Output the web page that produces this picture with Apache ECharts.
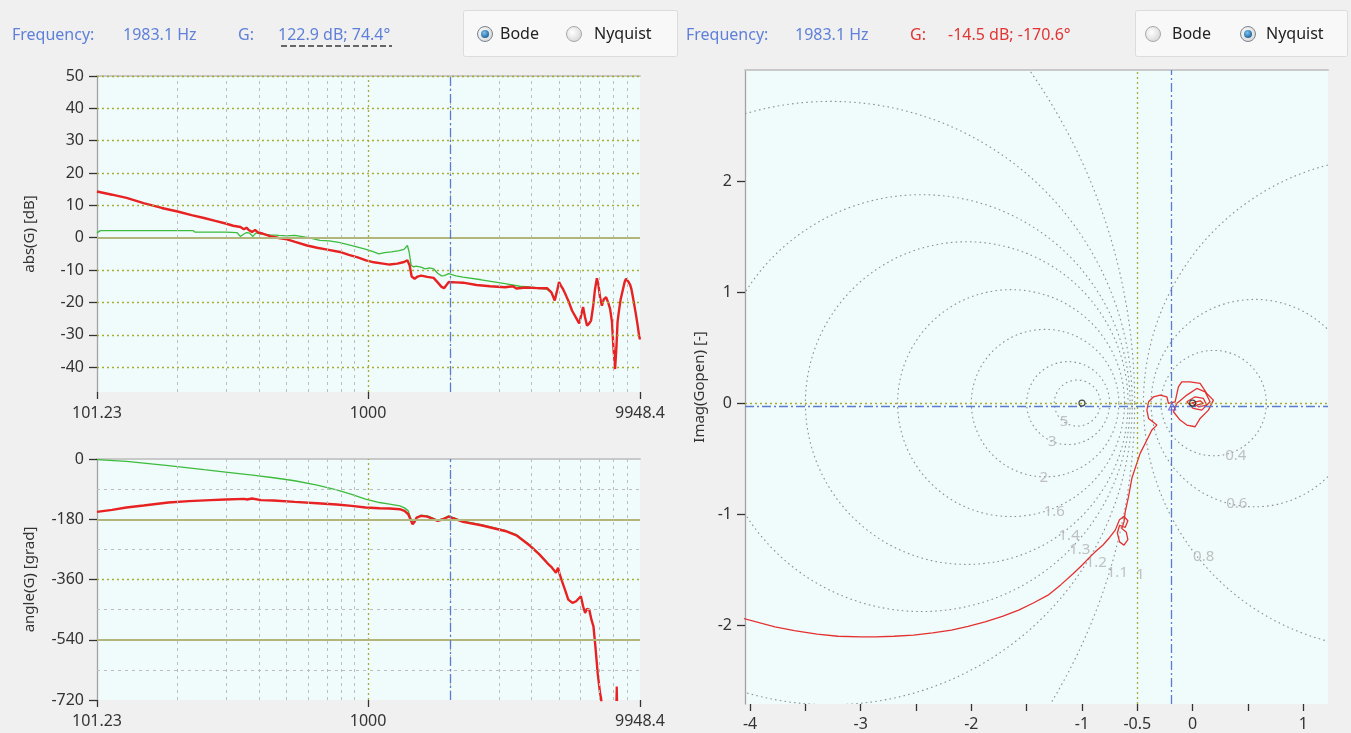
<!DOCTYPE html>
<html><head><meta charset="utf-8">
<script src="https://cdn.jsdelivr.net/npm/echarts@6/dist/echarts.min.js"></script>
<style>html,body{margin:0;padding:0;background:#f0f0f0;}#c{width:1351px;height:733px;}</style>
</head><body><div id="c"></div>
<script>
const FONT = 'Noto Sans';
// ---------- Bode magnitude ----------
const redMagFreq = [101.2,115,130,150,175,200,225,250,275,300,320,340,350,358,366,375,385,395,410,437,470,504,540,597,650,700,789,850,916,983,1050,1134,1200,1280,1355,1394,1420,1445,1482,1520,1564,1650,1739,1800,1860,1900,1940,1977,2100,2230,2500,2800,3181,3400,3500,3800,4200,4536,4700,4841,4950,5020,5100,5200,5326,5450,5600,5826,5950,6050,6150,6250,6362,6480,6579,6700,6800,6911,7000,7100,7210,7330,7470,7600,7727,7850,7950,8060,8150,8230,8316,8450,8623,8750,8844,9000,9150,9247,9400,9580,9750,9870,9948];
const redMagDb = [14.3,13.3,12.3,10.7,9.2,8.1,7.0,6.1,5.2,4.4,3.7,3.3,2.6,3.1,2.3,1.8,2.4,1.6,1.3,0.5,-0.1,-0.5,-1.3,-2.4,-3.1,-3.6,-4.4,-5.3,-6.1,-7.0,-7.6,-8.0,-8.3,-8.0,-7.5,-7.0,-8.5,-12.0,-12.7,-12.0,-11.7,-12.1,-12.4,-13.8,-15.2,-15.6,-14.6,-13.7,-13.8,-13.9,-14.6,-15.0,-15.3,-15.0,-15.7,-15.4,-15.6,-15.6,-16.8,-19.4,-16.0,-13.7,-14.8,-16.0,-17.9,-19.8,-22.5,-25.1,-26.5,-24.0,-21.4,-24.5,-27.2,-26.5,-25.6,-21.0,-16.0,-12.5,-14.5,-18.5,-21.0,-19.0,-18.4,-20.0,-22.0,-26.0,-34.0,-40.6,-34.0,-26.0,-23.0,-19.0,-15.8,-13.5,-12.7,-13.5,-14.5,-15.8,-19.0,-23.0,-27.0,-30.2,-31.5];
const greenMagFreq = [101.2,104,150,228,232,300,330,340,348,358,368,378,388,400,437,470,504,538,597,666,720,789,850,916,983,1050,1095,1150,1218,1300,1355,1394,1415,1440,1470,1500,1564,1620,1680,1739,1800,1860,1900,1940,1977,2100,2230,2600,3181,3600,4000,4536,4700,4841,4950,5020];
const greenMagDb = [1.5,2.2,2.2,2.2,1.7,1.7,1.6,0.4,1.0,1.6,1.4,0.4,1.5,1.2,0.9,0.7,0.6,0.7,0.1,-0.8,-1.0,-1.5,-2.2,-2.9,-3.6,-4.4,-5.0,-4.6,-4.4,-4.0,-3.6,-2.4,-4.5,-8.6,-9.0,-8.8,-9.1,-9.6,-9.3,-9.6,-11.0,-11.8,-11.7,-11.4,-11.1,-11.8,-12.2,-13.0,-14.2,-15.0,-15.3,-16.0,-17.0,-19.0,-16.0,-14.5];
// ---------- Bode phase ----------
const redPhFreq = [101.2,115,129.7,150,185,220,264,300,351,360,375,405,450,537.6,650,767,870,979,1100,1200,1308,1360,1404,1430,1456,1480,1508,1564,1650,1720,1802,1880,1977,2050,2230,2600,3181,3500,3939,4250,4536,4700,4890,4980,5050,5145,5300,5427,5623,5800,6036,6150,6255,6350,6480,6600,6714,6824,6957,7100,7160,7250];
const redPhDeg = [-158,-152,-145,-139,-130,-126,-123,-121,-119,-121,-118,-123,-124,-128,-132,-136,-140,-145,-147,-148,-150,-155,-165,-180,-195,-188,-175,-170,-172,-178,-185,-180,-172,-177,-188,-198,-215,-228,-260,-285,-310,-322,-340,-325,-345,-365,-395,-420,-430,-425,-410,-440,-460,-448,-450,-480,-500,-560,-640,-700,-715,-760];
const redPhSpikeFreq = [8120,8174,8230];
const redPhSpikeDeg = [-780,-680,-780];
const greenPhFreq = [101.2,130,185,250,300,376.6,450,537.6,650,767,870,979,1100,1200,1308,1360,1404,1430,1456,1480,1508,1564,1650,1720,1802,1880,1977,2230,2600,3181,3500,3939,4250,4536];
const greenPhDeg = [-2,-7,-20,-32,-39,-48,-56,-65,-78,-92,-106,-120,-130,-135,-140,-146,-155,-175,-190,-186,-174,-168,-170,-176,-183,-179,-170,-186,-196,-213,-226,-258,-284,-308];
// ---------- Bode axes / grid ----------
const freqMin = 101.23, freqMax = 9948.4;
const bodeTickFreqs = [101.23, 1000, 9948.4];
const bodeTickLabels = ['101.23', '1000', '9948.4'];
const minorFreqs = [200,300,400,500,600,700,800,900,2000,3000,4000,5000,6000,7000,8000,9000];
const decadeFreqs = [1000];
const cursorFreq = 1983.1;
const magTicks = [50,40,30,20,10,0,-10,-20,-30,-40];
const magDotted = [50,40,30,20,10,-10,-20,-30,-40];
const magSolid = [0];
const magMin = -47.7, magMax = 50;
const phTicks = [0,-180,-360,-540,-720];
const phDashed = [-90,-270,-450,-630];
const phSolid = [-180,-540];
const phDotted = [-360];
// ---------- Nyquist ----------
const nyqRe = [-4.10,-3.775,-3.6,-3.395,-3.206,-3.0,-2.864,-2.7,-2.523,-2.35,-2.18,-2.03,-1.876,-1.72,-1.572,-1.44,-1.307,-1.19,-1.078,-1.0,-0.927,-0.87,-0.812,-0.75,-0.699,-0.661,-0.62,-0.585,-0.61,-0.66,-0.68,-0.66,-0.62,-0.585,-0.60,-0.64,-0.62,-0.609,-0.579,-0.549,-0.504,-0.474,-0.413,-0.368,-0.323,-0.398,-0.413,-0.398,-0.353,-0.293,-0.233,-0.218,-0.158,-0.128,-0.098,-0.023,0.068,0.128,0.188,0.143,0.068,0.023,-0.052,-0.113,-0.173,-0.143,-0.052,0.038,0.113,0.158,0.083,0.007,-0.052,0.023,0.098,0.128,0.053,-0.008,0.068,0.098,0.037];
const nyqIm = [-1.93,-2.015,-2.05,-2.08,-2.10,-2.105,-2.105,-2.10,-2.09,-2.07,-2.045,-2.01,-1.97,-1.92,-1.865,-1.80,-1.73,-1.635,-1.534,-1.46,-1.385,-1.33,-1.28,-1.21,-1.144,-1.05,-1.02,-1.06,-1.12,-1.10,-1.17,-1.25,-1.28,-1.23,-1.16,-1.13,-1.07,-0.979,-0.843,-0.677,-0.541,-0.453,-0.333,-0.243,-0.198,-0.138,-0.063,0.012,0.057,0.072,0.057,-0.003,0.012,0.147,0.192,0.192,0.177,0.087,0.027,-0.063,-0.138,-0.213,-0.198,-0.153,-0.078,-0.003,0.072,0.132,0.102,0.012,-0.063,-0.048,0.012,0.057,0.042,-0.018,-0.033,0.003,0.021,-0.003,-0.018];
const mValues = [5,3,2,1.6,1.4,1.3,1.2,1.1,0.8,0.6,0.4];
const mLabels = ['5','3','2','1.6','1.4','1.3','1.2','1.1','1','0.8','0.6','0.4'];
const mLabelRe = [-1.163,-1.268,-1.345,-1.25,-1.116,-1.02,-0.87,-0.68,-0.473,0.10,0.40,0.39];
const mLabelIm = [-0.168,-0.35,-0.676,-0.98,-1.198,-1.318,-1.44,-1.53,-1.55,-1.385,-0.91,-0.47];
const nyqXLabels = [-4,-3,-2,-1,-0.5,0,1];
const nyqXTicks = [-4,-3.5,-3,-2.5,-2,-1.5,-1,-0.5,0,0.5,1];
const nyqYLabels = [2,1,0,-1,-2];
const nyqXMin = -4.046, nyqXMax = 1.224, nyqYMin = -2.71, nyqYMax = 3.0;
const criticalPoints = [[-1,0],[0,0]];
const cursorRe = -0.1855, cursorIm = -0.0307;
const unityLineRe = -0.5;

// ---------- styles ----------
const OLIVE_DOT = {color:'#a9ad35', width:1.3, type:[2,3]};
const OLIVE_SOLID = {color:'#b2b57c', width:2.2, type:'solid'};
const GREY_DASH = {color:'#bdbdbd', width:1, type:[3,4]};
const BLUE_DD = {color:'#5b7bd0', width:1.3, type:[9,3,2,3]};
const RED = '#e82222', GREEN = '#3cbb3c';
const L = Math.log10;
const zip = (a,b) => a.slice(0, Math.min(a.length,b.length)).map((v,i)=>[v,b[i]]);
const zipF = (f,v) => zip(f.map(x=>L(x)), v);

function lines(arr, key, style, conv) {
  return arr.map(v => ({[key]: conv ? conv(v) : v, lineStyle: Object.assign({}, style)}));
}
function helper(xi, yi, data) {
  return {type:'line', xAxisIndex:xi, yAxisIndex:yi, data:[], silent:true, z:1,
    markLine:{silent:true, symbol:['none','none'], label:{show:false}, animation:false, emphasis:{disabled:true}, data:data}};
}
const tickLabelStyle = {color:'#333', fontSize:16, fontFamily:FONT};
function bodeX(gi) {
  return {type:'value', gridIndex:gi, min:L(freqMin), max:L(freqMax), position:'bottom',
    axisLine:{show:false, onZero:false}, splitLine:{show:false},
    axisTick:{show:true, customValues:bodeTickFreqs.map(x=>L(x)), length:7, lineStyle:{color:'#333', width:1.3}},
    axisLabel:Object.assign({customValues:bodeTickFreqs.map(x=>L(x)), margin:13, hideOverlap:false,
      formatter: v => { let b=0; bodeTickFreqs.forEach((f,i)=>{ if (Math.abs(L(f)-v) < Math.abs(L(bodeTickFreqs[b])-v)) b=i; }); return bodeTickLabels[b]; }}, tickLabelStyle)};
}
function topBorder(gi, min, max) {
  return {type:'value', gridIndex:gi, min:min, max:max, position:'top',
    axisLine:{show:true, onZero:false, lineStyle:{color:'#c9c9c9', width:2}}, axisTick:{show:false}, axisLabel:{show:false}, splitLine:{show:false}};
}
function yAx(gi, min, max, ticks, name, gap) {
  return {type:'value', gridIndex:gi, min:min, max:max, position:'left',
    name:name, nameLocation:'middle', nameRotate:90, nameGap:gap,
    nameTextStyle:{color:'#333', fontSize:15, fontFamily:FONT},
    axisLine:{show:true, onZero:false, lineStyle:{color:'#a3a3a3', width:1.3}}, splitLine:{show:false},
    axisTick:{show:true, customValues:ticks, length:8, lineStyle:{color:'#333', width:1.3}},
    axisLabel:Object.assign({customValues:ticks, margin:13, hideOverlap:false}, tickLabelStyle)};
}
function radio(cx, cy, sel) {
  const ch = [{type:'circle', shape:{cx:cx, cy:cy, r:7.5},
    style:{fill:{type:'radial', x:0.4, y:0.4, r:0.7, colorStops:[{offset:0,color:'#ffffff'},{offset:1,color:'#d2d2d2'}]}, stroke:sel?'#7a8590':'#a9a9a9', lineWidth:1}}];
  if (sel) ch.push({type:'circle', shape:{cx:cx, cy:cy, r:4},
    style:{fill:{type:'radial', x:0.4, y:0.35, r:0.7, colorStops:[{offset:0,color:'#7cc3f0'},{offset:1,color:'#1b5e94'}]}}});
  return {type:'group', children:ch};
}
function txt(x, y, s, color) {
  return {type:'text', x:x, y:y, style:{text:s, fill:color, fontSize:16, fontFamily:FONT, verticalAlign:'middle', align:'left'}};
}
const BLUE_T = '#5f80d8', RED_T = '#e23434';

const magV = [].concat(
  lines(minorFreqs,'xAxis',GREY_DASH,L), lines(decadeFreqs,'xAxis',OLIVE_DOT,L),
  lines(magDotted,'yAxis',OLIVE_DOT), lines(magSolid,'yAxis',OLIVE_SOLID),
  lines([cursorFreq],'xAxis',BLUE_DD,L));
const phV = [].concat(
  lines(minorFreqs,'xAxis',GREY_DASH,L), lines(decadeFreqs,'xAxis',OLIVE_DOT,L),
  lines(phDashed,'yAxis',GREY_DASH), lines(phDotted,'yAxis',OLIVE_DOT), lines(phSolid,'yAxis',OLIVE_SOLID),
  lines([cursorFreq],'xAxis',BLUE_DD,L));
const nyV = [].concat(
  lines([0],'yAxis',OLIVE_DOT), lines([unityLineRe],'xAxis',OLIVE_DOT),
  lines([cursorRe],'xAxis',BLUE_DD), lines([cursorIm],'yAxis',BLUE_DD));

const chart = echarts.init(document.getElementById('c'), null, {renderer:'canvas'});
chart.setOption({
  animation:false,
  backgroundColor:'#f0f0f0',
  textStyle:{fontFamily:FONT},
  grid:[
    {left:97, top:76, width:543, height:316, show:true, backgroundColor:'#effcfb', borderWidth:0, containLabel:false, outerBoundsMode:'none'},
    {left:97, top:459, width:543, height:241, show:true, backgroundColor:'#effcfb', borderWidth:0, containLabel:false, outerBoundsMode:'none'},
    {left:745, top:70, width:583, height:634, show:true, backgroundColor:'#effcfb', borderWidth:0, containLabel:false, outerBoundsMode:'none'}
  ],
  xAxis:[
    bodeX(0), topBorder(0, L(freqMin), L(freqMax)),
    bodeX(1), topBorder(1, L(freqMin), L(freqMax)),
    {type:'value', gridIndex:2, min:nyqXMin, max:nyqXMax, position:'bottom',
      axisLine:{show:false, onZero:false}, splitLine:{show:false},
      axisTick:{show:true, customValues:nyqXTicks, length:7, lineStyle:{color:'#333', width:1.3}},
      axisLabel:Object.assign({customValues:nyqXLabels, margin:12, hideOverlap:false, formatter:v=>String(v)}, tickLabelStyle)},
    topBorder(2, nyqXMin, nyqXMax)
  ],
  yAxis:[
    yAx(0, magMin, magMax, magTicks, 'abs(G) [dB]', 60),
    yAx(1, -720, 0, phTicks, 'angle(G) [grad]', 60),
    yAx(2, nyqYMin, nyqYMax, nyqYLabels, 'Imag(Gopen) [-]', 38)
  ],
  series:[
    helper(0,0,magV),
    helper(2,1,phV),
    helper(4,2,nyV),
    {type:'line', xAxisIndex:0, yAxisIndex:0, data:zipF(greenMagFreq, greenMagDb), showSymbol:false, silent:true, z:3, lineStyle:{color:GREEN, width:1.3}},
    {type:'line', xAxisIndex:0, yAxisIndex:0, data:zipF(redMagFreq, redMagDb), showSymbol:false, silent:true, z:4, lineStyle:{color:RED, width:2.4}},
    {type:'line', xAxisIndex:2, yAxisIndex:1, data:zipF(greenPhFreq, greenPhDeg), showSymbol:false, silent:true, z:3, lineStyle:{color:GREEN, width:1.3}},
    {type:'line', xAxisIndex:2, yAxisIndex:1, data:zipF(redPhFreq, redPhDeg), showSymbol:false, silent:true, z:4, clip:true, lineStyle:{color:RED, width:2.4}},
    {type:'line', xAxisIndex:2, yAxisIndex:1, data:zipF(redPhSpikeFreq, redPhSpikeDeg), showSymbol:false, silent:true, z:4, clip:true, lineStyle:{color:RED, width:2.2}},
    {type:'custom', xAxisIndex:4, yAxisIndex:2, silent:true, z:2,
      data: mValues.map(m => [-m*m/(m*m-1), m/Math.abs(m*m-1)]),
      renderItem: function(params, api) {
        const c = api.coord([api.value(0), 0]);
        const r = api.size([api.value(1), 0])[0];
        const cs = params.coordSys;
        return {type:'group', clipPath:{type:'rect', shape:{x:cs.x, y:cs.y, width:cs.width, height:cs.height}},
          children:[{type:'circle', shape:{cx:c[0], cy:c[1], r:r}, style:{fill:null, stroke:'#8f8f8f', lineWidth:1.1, lineDash:[1.6,3.2]}}]};
      }},
    {type:'scatter', xAxisIndex:4, yAxisIndex:2, silent:true, z:3, symbolSize:0,
      data: mLabels.map((s,i)=>[mLabelRe[i], mLabelIm[i], s]),
      label:{show:true, position:'inside', formatter:p=>p.value[2], color:'#b2b2b2', fontSize:15, fontFamily:FONT}},
    {type:'line', xAxisIndex:4, yAxisIndex:2, data:zip(nyqRe, nyqIm), showSymbol:false, silent:true, z:4, clip:true, lineStyle:{color:'#e53030', width:1.3}},
    {type:'scatter', xAxisIndex:4, yAxisIndex:2, silent:true, z:5, symbol:'circle', symbolSize:6,
      data:criticalPoints, itemStyle:{color:'rgba(0,0,0,0)', borderColor:'#222', borderWidth:1.2}},
    {type:'scatter', xAxisIndex:4, yAxisIndex:2, silent:true, z:6, symbol:'triangle', symbolSize:7,
      data:[[cursorRe, cursorIm]], itemStyle:{color:'rgba(0,0,0,0)', borderColor:'#6a4fd0', borderWidth:1.2}}
  ],
  graphic:[
    {type:'rect', shape:{x:463.5, y:10.5, width:214, height:46, r:2}, style:{fill:'#f8f8f8', stroke:'#dcdcdc', lineWidth:1}},
    {type:'rect', shape:{x:1135.5, y:10.5, width:212, height:46, r:2}, style:{fill:'#f8f8f8', stroke:'#dcdcdc', lineWidth:1}},
    radio(485, 34, true), txt(500, 34, 'Bode', '#222'),
    radio(574, 34, false), txt(594, 34, 'Nyquist', '#222'),
    radio(1153, 34, false), txt(1172, 34, 'Bode', '#222'),
    radio(1248, 34, true), txt(1266, 34, 'Nyquist', '#222'),
    txt(12, 35, 'Frequency:', BLUE_T), txt(123, 35, '1983.1 Hz', BLUE_T),
    txt(238, 35, 'G:', BLUE_T), txt(278, 35, '122.9 dB; 74.4°', BLUE_T),
    {type:'line', shape:{x1:281, y1:46, x2:392, y2:46}, style:{stroke:'#666', lineWidth:1.8, lineDash:[6,3]}},
    txt(686, 35, 'Frequency:', BLUE_T), txt(795, 35, '1983.1 Hz', BLUE_T),
    txt(910, 35, 'G:', RED_T), txt(948, 35, '-14.5 dB; -170.6°', RED_T)
  ]
});
</script></body></html>
